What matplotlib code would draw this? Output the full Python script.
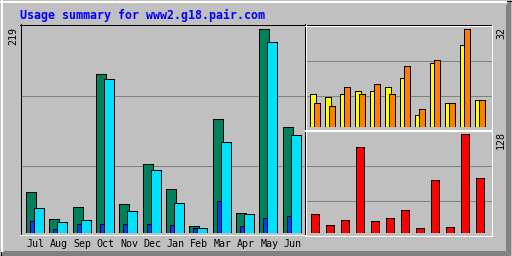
import numpy as np
import matplotlib
matplotlib.use('Agg')
from matplotlib import pyplot as plt
from matplotlib.patches import Polygon, Rectangle

months = ['Jul', 'Aug', 'Sep', 'Oct', 'Nov', 'Dec', 'Jan', 'Feb', 'Mar', 'Apr', 'May', 'Jun']
hits = [44, 15, 28, 171, 31, 74, 47, 8, 123, 21, 219, 114]
files = [27, 12, 14, 166, 24, 68, 32, 5, 98, 20, 205, 105]
pages = [13, 4, 10, 10, 10, 10, 9, 5, 34, 7, 16, 18]
visits = [11, 10, 11, 12, 12, 13, 16, 4, 21, 8, 27, 9]
sites = [8, 7, 13, 11, 14, 11, 20, 6, 22, 8, 32, 9]
kbytes = [24, 10, 17, 111, 15, 19, 30, 6, 68, 8, 128, 71]
title = 'Usage summary for www2.g18.pair.com'

W, H = 512, 256
LW = 0.72  # one pixel
MONO = 'DejaVu Sans Mono'
GREY = '#C0C0C0'
DARK = '#808080'

fig = plt.figure(figsize=(W / 100, H / 100), dpi=100, facecolor=GREY)


def px_axes(x0, y0, x1, y1):
    a = fig.add_axes([x0 / W, 1 - y1 / H, (x1 - x0) / W, (y1 - y0) / H])
    a.set_facecolor('none')
    return a


# background / frame in pixel coords
bg = px_axes(0, 0, W, H)
bg.set_xlim(0, W)
bg.set_ylim(H, 0)
bg.axis('off')

bg.add_patch(Polygon([(506, 5), (511, 0), (511, 256), (506, 251)], closed=True, color=DARK, lw=0))
bg.add_patch(Polygon([(4, 251), (506, 251), (511, 256), (0, 256)], closed=True, color=DARK, lw=0))
bg.plot([1.5, 1.5], [1, 251], color='white', lw=LW * 2)
bg.plot([1, 506], [1.5, 1.5], color='white', lw=LW * 2)
bg.add_patch(Rectangle((0.5, 0.5), 511, 255, fill=False, ec='black', lw=LW))

# grid lines
for y in [95.5, 165.5]:
    bg.plot([21, 304], [y, y], color=DARK, lw=LW, antialiased=False)
for y in [60.5, 95.5]:
    bg.plot([306, 491], [y, y], color=DARK, lw=LW, antialiased=False)
for y in [165.5, 200.5]:
    bg.plot([306, 491], [y, y], color=DARK, lw=LW, antialiased=False)

# panel frames
frame = dict(lw=LW, antialiased=False)
bg.plot([20, 305], [24.5, 24.5], color='black', **frame)
bg.plot([20.5, 20.5], [24, 235], color='black', **frame)
bg.plot([304.5, 304.5], [24, 235], color='black', **frame)
bg.plot([20, 305], [234.5, 234.5], color='white', **frame)
bg.plot([305, 492], [24.5, 24.5], color='black', **frame)
bg.plot([305.5, 305.5], [25, 130], color='white', **frame)
bg.plot([305, 492], [25.5, 25.5], color='white', **frame)
bg.plot([491.5, 491.5], [25, 130], color='white', **frame)
bg.plot([305, 492], [129.5, 129.5], color='white', **frame)
bg.plot([305, 492], [130.5, 130.5], color='white', **frame)
bg.plot([305.5, 305.5], [130, 236], color='white', **frame)
bg.plot([491.5, 491.5], [130, 236], color='white', **frame)
bg.plot([305, 492], [235.5, 235.5], color='white', **frame)

# texts
bg.text(20, 19.5, title, color='#0000FF', family=MONO, weight='bold', fontsize=8.4,
        ha='left', va='baseline')
bg.text(13, 27, str(max(hits)), rotation=90, ha='center', va='top', family=MONO, fontsize=7.2)
bg.text(501, 27, str(max(sites)), rotation=90, ha='center', va='top', family=MONO, fontsize=7.2)
bg.text(501, 131, str(max(kbytes)), rotation=90, ha='center', va='top', family=MONO, fontsize=7.2)

x = np.arange(len(months))
bar_style = dict(align='edge', edgecolor='black', lw=LW, antialiased=False)

# hits / files / pages
ax = px_axes(21, 25, 304, 233)
u = 23.36
ax.set_xlim((21 - 25.3) / u, (304 - 25.3) / u)
ax.set_ylim(0, max(hits) * 208 / 203.7)
ax.bar(x + 0.5 / u, hits, width=10 / u, color='#00805C', **bar_style)
ax.bar(x + 8.5 / u, files, width=10 / u, color='#00E0FF', **bar_style)
ax.bar(x + 4.5 / u, pages, width=4 / u, color='#0040FF', **bar_style)
ax.set_xticks(x + 0.44, months, family=MONO, fontsize=7.2)
ax.tick_params(axis='x', length=0, pad=4)
ax.set_yticks([])
for s in ax.spines.values():
    s.set_visible(False)

# visits / sites
ax2 = px_axes(306, 25, 490, 127.3)
u2 = 15
ax2.set_xlim((306 - 309.3) / u2, (490 - 309.3) / u2)
ax2.set_ylim(0, max(sites) * 102.3 / 98)
ax2.bar(x + 0.5 / u2, visits, width=6 / u2, color='#FFFF00', **bar_style)
ax2.bar(x + 4.5 / u2, sites, width=6 / u2, color='#FF8000', **bar_style)
ax2.axis('off')

# kbytes
ax3 = px_axes(306, 131, 490, 232.7)
ax3.set_xlim((306 - 310.3) / u2, (490 - 310.3) / u2)
ax3.set_ylim(0, max(kbytes) * 101.7 / 98.4)
ax3.bar(x + 0.5 / u2, kbytes, width=8 / u2, color='#FF0000', **bar_style)
ax3.axis('off')

fig.savefig('out.png', dpi=100, facecolor=GREY)
